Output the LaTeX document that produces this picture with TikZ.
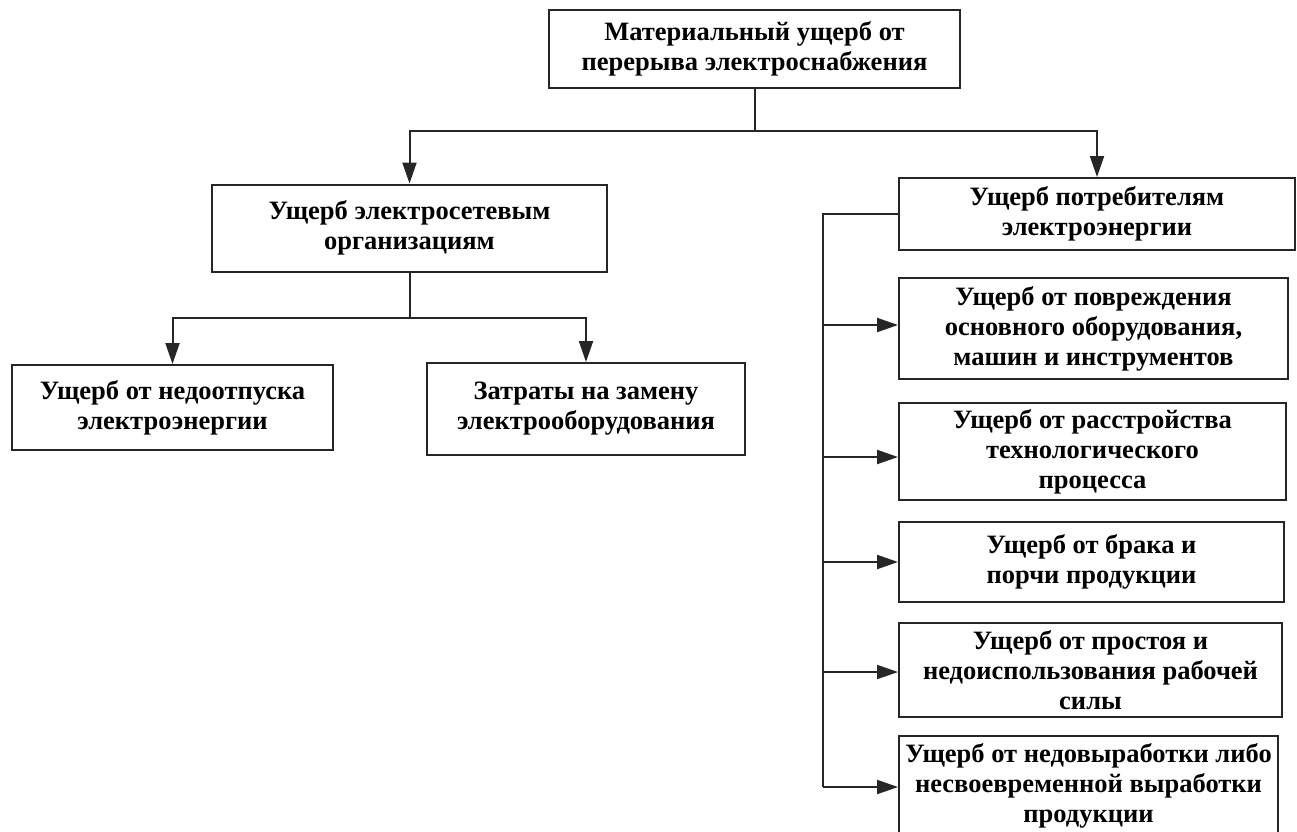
\documentclass[tikz,border=0pt]{standalone}
\usepackage{fontspec}
\setmainfont{Liberation Serif}
\usetikzlibrary{arrows.meta}
\begin{document}
\begin{tikzpicture}[x=1pt,y=-1pt,
  box/.style={draw=black!85,line width=2pt,fill=white,align=center,inner sep=0pt,
    font=\fontsize{26.5}{30}\selectfont\bfseries},
  conn/.style={line width=2pt,draw=black!85},
  arr/.style={conn,-{Triangle[length=21pt,width=14pt]}}]
\useasboundingbox[fill=white] (0,0) rectangle (1297,831);
\node[box,minimum width=411pt,minimum height=78pt] (top) at (754.5,49) {Материальный ущерб от\\перерыва электроснабжения};
\node[box,minimum width=395pt,minimum height=87pt] (L) at (409.5,228) {Ущерб электросетевым\\организациям};
\node[box,minimum width=396pt,minimum height=72pt] (R) at (1097,214) {Ущерб потребителям\\электроэнергии};
\node[box,minimum width=321pt,minimum height=85pt] (LL) at (172.5,407.5) {Ущерб от недоотпуска\\электроэнергии};
\node[box,minimum width=318pt,minimum height=92pt] (LR) at (586,409) {Затраты на замену\\электрооборудования};
\node[box,minimum width=389pt,minimum height=101pt] (R1) at (1093.5,328.5) {Ущерб от повреждения\\основного оборудования,\\машин и инструментов};
\node[box,minimum width=387pt,minimum height=97pt] (R2) at (1092.5,451.5) {Ущерб от расстройства\\технологического\\процесса};
\node[box,minimum width=385pt,minimum height=80pt] (R3) at (1091.5,562) {Ущерб от брака и\\порчи продукции};
\node[box,minimum width=383pt,minimum height=94pt] (R4) at (1090.5,670) {Ущерб от простоя и\\недоиспользования рабочей\\силы};
\node[box,minimum width=379pt,minimum height=100pt] (R5) at (1088.5,786) {Ущерб от недовыработки либо\\несвоевременной выработки\\продукции};
% top level
\coordinate (jt) at (754.5,131);
\draw[conn] (top.south) -- (jt);
\draw[arr] (jt) -| (L.north);
\draw[arr] (jt) -| (R.north);
% left level
\coordinate (jl) at (409.5,318);
\draw[conn] (L.south) -- (jl);
\draw[arr] (jl) -| (LL.north);
\draw[arr] (jl) -| (LR.north);
% right trunk
\coordinate (t0) at (823,214);
\coordinate (t1) at (823,325);
\coordinate (t2) at (823,457);
\coordinate (t3) at (823,562);
\coordinate (t4) at (823,672);
\coordinate (t5) at (823,787);
\draw[conn] (R.west) -- (t0) -- (t5);
\draw[arr] (t1) -- (t1 -| R1.west);
\draw[arr] (t2) -- (t2 -| R2.west);
\draw[arr] (t3) -- (t3 -| R3.west);
\draw[arr] (t4) -- (t4 -| R4.west);
\draw[arr] (t5) -- (t5 -| R5.west);
\end{tikzpicture}
\end{document}
